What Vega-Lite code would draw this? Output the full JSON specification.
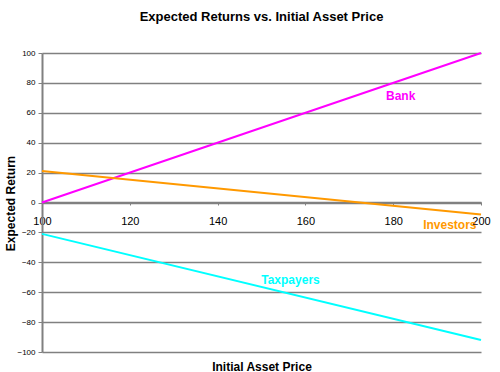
{
  "$schema": "https://vega.github.io/schema/vega-lite/v6.json",
  "width": 439,
  "height": 299,
  "autosize": "none",
  "padding": {"left": 42, "top": 53, "right": 19, "bottom": 20},
  "background": "white",
  "title": {"text": "Expected Returns vs. Initial Asset Price", "font": "Liberation Sans", "fontSize": 13, "fontWeight": "bold", "color": "black", "anchor": "middle", "frame": "group", "offset": 25},
  "config": {"view": {"stroke": null}},
  "datasets": {
    "lines": [
      {"price": 100, "ret": 0, "series": "Bank"},
      {"price": 200, "ret": 100, "series": "Bank"},
      {"price": 100, "ret": 21, "series": "Investors"},
      {"price": 200, "ret": -8, "series": "Investors"},
      {"price": 100, "ret": -21, "series": "Taxpayers"},
      {"price": 200, "ret": -92, "series": "Taxpayers"}
    ],
    "labels": [
      {"price": 181.7, "ret": 71, "series": "Bank"},
      {"price": 192.9, "ret": -15, "series": "Investors"},
      {"price": 156.6, "ret": -52, "series": "Taxpayers"}
    ]
  },
  "encoding": {
    "x": {"field": "price", "type": "quantitative", "scale": {"domain": [100, 200], "nice": false, "zero": false},
      "axis": {"title": "Initial Asset Price", "titleFont": "Liberation Sans", "titleFontSize": 12, "titleFontWeight": "bold", "titleColor": "black", "titleY": 168, "titleBaseline": "alphabetic",
        "offset": -150, "values": [100, 120, 140, 160, 180, 200], "grid": false, "domainColor": "#808080", "domainWidth": 1.5, "tickColor": "#808080", "tickSize": 3, "labelFont": "Liberation Sans", "labelFontSize": 11, "labelColor": "black", "labelPadding": 10, "labelFlush": false, "labelOverlap": false}},
    "y": {"field": "ret", "type": "quantitative", "scale": {"domain": [-100, 100], "nice": false},
      "axis": {"title": "Expected Return", "titleFont": "Liberation Sans", "titleFontSize": 12, "titleFontWeight": "bold", "titleColor": "black", "titleX": -32, "titleY": 150, "titleAngle": -90, "titleBaseline": "middle", "titleAlign": "center",
        "values": [-100, -80, -60, -40, -20, 0, 20, 40, 60, 80, 100], "tickCount": 11, "grid": true, "gridColor": "#808080", "gridWidth": 1.5, "gridOpacity": 1, "domainColor": "#808080", "domainWidth": 2, "tickColor": "#808080", "tickSize": 4, "labelFont": "Liberation Sans", "labelFontSize": 8, "labelColor": "black", "labelPadding": 3, "labelOverlap": false, "labelFlush": false}},
    "color": {"field": "series", "type": "nominal", "scale": {"domain": ["Bank", "Investors", "Taxpayers"], "range": ["#FF00FF", "#FF9900", "#00FFFF"]}, "legend": null}
  },
  "layer": [
    {
      "data": {"name": "lines"},
      "mark": {"type": "line", "strokeWidth": 2}
    },
    {
      "data": {"name": "labels"},
      "mark": {"type": "text", "font": "Liberation Sans", "fontSize": 12, "fontWeight": "bold", "align": "center", "baseline": "middle"},
      "encoding": {
        "text": {"field": "series"}
      }
    }
  ]
}
